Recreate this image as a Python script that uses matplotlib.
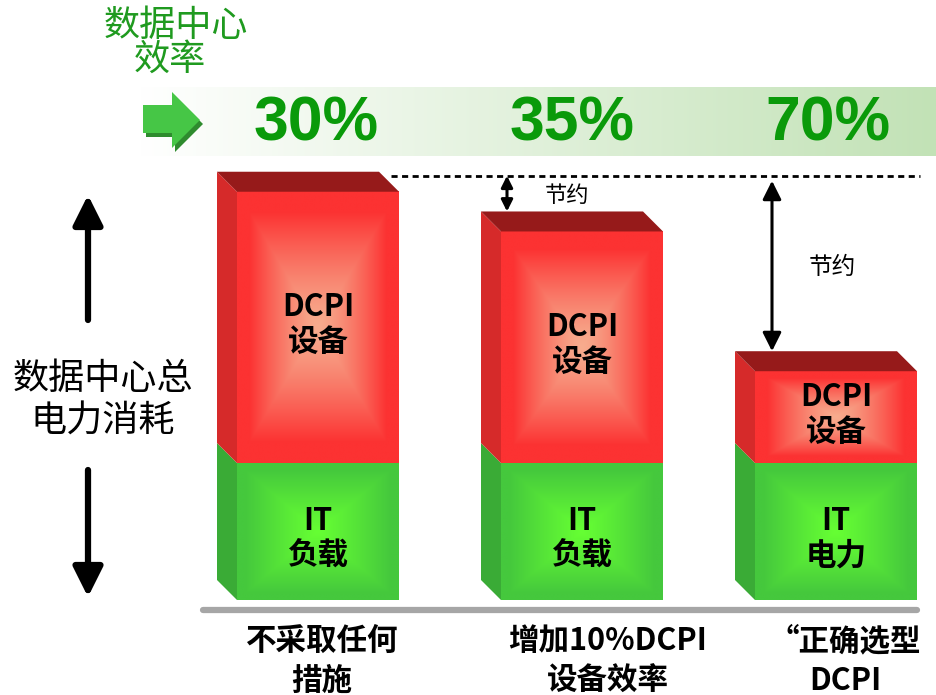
import numpy as np
import matplotlib.pyplot as plt
from matplotlib.patches import Polygon
from matplotlib.colors import to_rgb

plt.rcParams['font.family'] = ['Noto Sans CJK SC', 'DejaVu Sans']

# data
categories = ['不采取任何\n措施', '增加10%DCPI\n设备效率', '“正确选型\nDCPI']
it_load = [100, 100, 100]
dcpi_load = [198, 169, 67]
efficiency = ['30%', '35%', '70%']
it_labels = ['IT\n负载', 'IT\n负载', 'IT\n电力']
dcpi_labels = ['DCPI\n设备', 'DCPI\n设备', 'DCPI\n设备']
saving_label = '节约'

W, H = 936, 695
fig = plt.figure(figsize=(W / 100, H / 100), dpi=100)

# decoration layer in pixel coordinates
deco = fig.add_axes([0, 0, 1, 1])
deco.axis('off')

# bar layer: y in load units, baseline at pixel 600
px = 1.37  # pixels per unit
base = 600
ax = fig.add_axes([0, 0, 1, 1])
ax.axis('off')

positions = [318, 582, 836]
w = 162
dx = 20
dy = 20 / px


def face_gradient(x0, x1, y0, y1, edge, mid, reach=0.85, power=1.3):
    u = np.linspace(-1, 1, 200)
    U, V = np.meshgrid(u, u)
    d = np.maximum(np.abs(U), np.abs(V))
    t = np.clip(d / reach, 0, 1) ** power
    img = np.array(mid)[None, None, :] * (1 - t[..., None]) + np.array(edge)[None, None, :] * t[..., None]
    ax.imshow(img, extent=[x0, x1, y0, y1], aspect='auto', origin='lower',
              interpolation='bilinear', zorder=2)


red_edge, red_mid = to_rgb('#fc3232'), to_rgb('#f7ac8e')
green_edge, green_mid = to_rgb('#45c83d'), to_rgb('#66ff33')

totals = [a + b for a, b in zip(it_load, dcpi_load)]

for i, c in enumerate(positions):
    xl, xr = c - w / 2, c + w / 2
    it = it_load[i]
    tot = totals[i]
    # IT part
    face_gradient(xl, xr, 0, it, green_edge, green_mid, reach=0.9, power=1.1)
    ax.add_patch(Polygon([(xl - dx, dy), (xl, 0), (xl, it), (xl - dx, it + dy)],
                         closed=True, fc='#3aab36', ec='none', zorder=2))
    # DCPI part
    face_gradient(xl, xr, it, tot, red_edge, red_mid)
    ax.add_patch(Polygon([(xl - dx, it + dy), (xl, it), (xl, tot), (xl - dx, tot + dy)],
                         closed=True, fc='#d62a2a', ec='none', zorder=2))
    ax.add_patch(Polygon([(xl, tot), (xr, tot), (xr - dx, tot + dy), (xl - dx, tot + dy)],
                         closed=True, fc='#961a1a', ec='none', zorder=2))
    ax.text(c, it * 0.45, it_labels[i], ha='center', va='center', fontsize=22,
            fontweight='bold', linespacing=1.1, zorder=3)
    ax.text(c, it + dcpi_load[i] / 2 + 2, dcpi_labels[i], ha='center', va='center', fontsize=22,
            fontweight='bold', linespacing=1.1, zorder=3)

# reference dotted line at the top of the first bar
ref_y = totals[0] + dy * 0.8
ax.plot([positions[0] + w / 2 - 8, positions[2] + w / 2 + 3], [ref_y, ref_y],
        color='black', lw=2, linestyle=(0, (2.2, 1.6)), zorder=3)

# saving arrows
arrow_x = [None, positions[1] - w / 2 + 6, positions[2] - w / 2 + 17]
arrow_scale = [0, 17, 28]
for i in (1, 2):
    top = ref_y if i == 1 else ref_y - 5 / px
    ax.annotate('', xy=(arrow_x[i], totals[i] + dy), xytext=(arrow_x[i], top),
                arrowprops=dict(arrowstyle='<|-|>', color='black', lw=2.2,
                                mutation_scale=arrow_scale[i], shrinkA=0, shrinkB=0),
                zorder=3)
    ax.text(arrow_x[i] + 60, (top + totals[i] + dy) / 2 - 2 / px, saving_label,
            ha='center', va='center', fontsize=16 if i == 1 else 17, style='italic',
            fontweight='medium', zorder=3)

# baseline
ax.plot([positions[0] - w / 2 - 34, positions[2] + w / 2], [-10 / px, -10 / px],
        color='#a6a6a6', lw=4.5, solid_capstyle='round', zorder=1)

ax.set_xlim(0, W)
ax.set_ylim(-(H - base) / px, base / px)

# category labels
label_x = [322, 608, 845]
for i, lab in enumerate(categories):
    deco.text(label_x[i], 661, lab, ha='center', va='center', fontsize=22,
              fontweight='bold', linespacing=1.3)

# efficiency band
band = np.linspace(0, 1, 300)
band_edge = np.array(to_rgb('#c2e2b6'))
band_img = np.ones((2, 300, 3)) * (1 - band[None, :, None]) + band_edge[None, None, :] * band[None, :, None]
deco.imshow(band_img, extent=[140, W, 156, 87], aspect='auto', zorder=0)

# green arrow in the band
arrow_pts = [(143, 105), (172, 105), (172, 92), (200, 120), (172, 148), (172, 133), (143, 133)]
deco.add_patch(Polygon([(x + 3, y + 4) for x, y in arrow_pts], closed=True, fc='#2e8b2e', ec='none', zorder=1))
deco.add_patch(Polygon(arrow_pts, closed=True, fc='#46c646', ec='none', zorder=2))

pct_x = [316, 572, 828]
for i, e in enumerate(efficiency):
    deco.text(pct_x[i], 124, e, ha='center', va='center', fontsize=45, fontweight='bold',
              color='#0a9a0a', family='Liberation Sans', zorder=3)

deco.text(176, 26, '数据中心', ha='center', va='center', fontsize=26, style='italic',
          fontweight='medium', color='#1f9a1f')
deco.text(170, 60, '效率', ha='center', va='center', fontsize=26, style='italic',
          fontweight='medium', color='#1f9a1f')

# left label with arrows
deco.text(103, 400, '数据中心总\n电力消耗', ha='center', va='center', fontsize=26,
          fontweight='medium', linespacing=1.25)
deco.annotate('', xy=(88, 195), xytext=(88, 320),
              arrowprops=dict(arrowstyle='-|>', color='black', lw=4.5, mutation_scale=45,
                              shrinkA=0, shrinkB=0))
deco.annotate('', xy=(88, 597), xytext=(88, 470),
              arrowprops=dict(arrowstyle='-|>', color='black', lw=4.5, mutation_scale=45,
                              shrinkA=0, shrinkB=0))

deco.set_xlim(0, W)
deco.set_ylim(H, 0)

fig.savefig('out.png', dpi=100)
